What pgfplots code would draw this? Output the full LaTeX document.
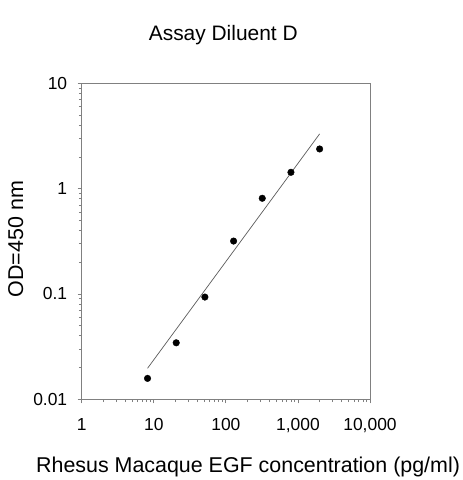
\documentclass[border=0pt]{standalone}
\usepackage{pgfplots}
\pgfplotsset{compat=1.18}
\usepackage{fontspec}
\setmainfont{Liberation Sans}
\definecolor{axgray}{RGB}{128,128,128}
\definecolor{fitgray}{RGB}{90,90,90}
\begin{document}
\begin{tikzpicture}
\useasboundingbox (0,0) rectangle (463bp,-480bp);
\begin{axis}[
  at={(81.7bp,-399.3bp)}, anchor=south west,
  scale only axis, width=288.3bp, height=316bp,
  xmode=log, ymode=log,
  xmin=1, xmax=10000, ymin=0.01, ymax=10,
  xtick={1,10,100,1000,10000},
  xticklabels={1,10,100,{1,000},{10,000}},
  ytick={0.01,0.1,1,10},
  yticklabels={0.01,0.1,1,10},
  minor tick num=0,
  minor xtick={}, minor ytick={},
  tick align=outside, major tick length=4bp,
  xtick pos=bottom, ytick pos=left,
  axis line style={axgray, line width=0.9pt},
  tick style={axgray, line width=0.8pt},
  ticklabel style={font=\fontsize{17.5}{20}\selectfont},
  xticklabel style={yshift=-12bp},
  yticklabel style={xshift=-7bp},
  title={Assay Diluent D},
  title style={font=\fontsize{21}{25}\selectfont, at={(axis description cs:0.491,1.1158)}, anchor=base},
  xlabel={Rhesus Macaque EGF concentration (pg/ml)},
  xlabel style={font=\fontsize{21.5}{25}\selectfont, at={(axis description cs:0.577,-0.2323)}, anchor=base},
  ylabel={OD=450 nm},
  ylabel style={font=\fontsize{21.5}{25}\selectfont, at={(axis description cs:-0.2036,0.507)}, anchor=base, rotate=0},
]
\addplot[fitgray, line width=0.7pt] coordinates {(8.192,0.0197) (2000,3.31)};
\addplot[only marks, mark=*, mark size=3.3bp, black] coordinates {
(8.192,0.0158) (20.48,0.0344) (51.2,0.0935) (128,0.318) (320,0.81) (800,1.43) (2000,2.38)};
\end{axis}
\end{tikzpicture}
\end{document}
